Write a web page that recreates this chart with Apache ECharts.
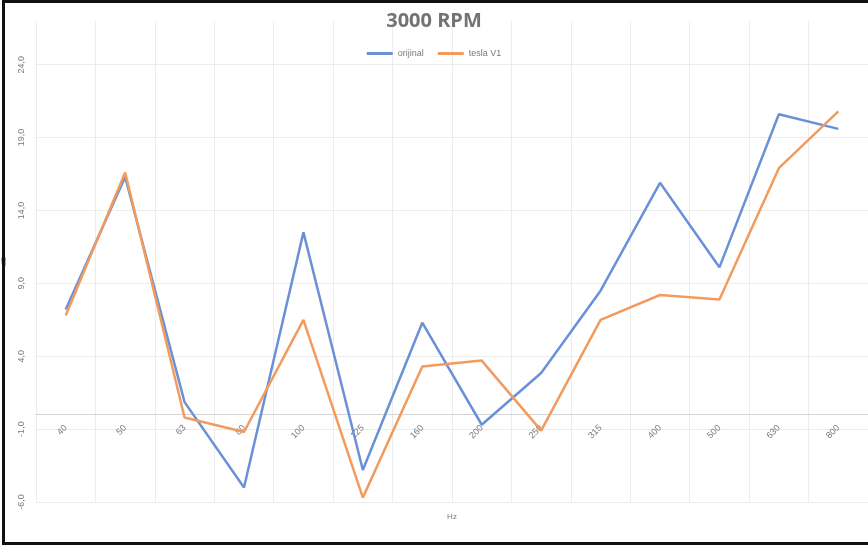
<!DOCTYPE html>
<html lang="en">
<head>
    <meta charset="UTF-8">
    <title>3000 RPM</title>
    <script src="https://cdn.jsdelivr.net/npm/echarts@6/dist/echarts.min.js"></script>
    <style>
        html, body, #chart {
            width: 868px;
            height: 546px;
            padding: 0;
            margin: 0;
            background: #fff;
        }
    </style>
</head>
<body>
<div id="chart"></div>
<script>
    var bands = ["40", "50", "63", "80", "100", "125", "160", "200", "250", "315", "400", "500", "630", "800"];
    var orijinal = [7.2, 16.3, 0.85, -5.0, 12.5, -3.8, 6.3, -0.7, 2.85, 8.5, 15.9, 10.1, 20.6, 19.6];
    var teslaV1 = [6.8, 16.6, -0.2, -1.2, 6.5, -5.7, 3.3, 3.7, -1.1, 6.5, 8.2, 7.9, 16.9, 20.8];
    var yTicks = [-6, -1, 4, 9, 14, 19, 24];

    var labelColor = "#7a7a7a";
    var gridColor = "#ececec";

    // plot box and the y range, so the category axis can sit on the zero line
    var gridTop = 21, gridBottom = 44, yMin = -6, yMax = 27;
    var plotH = 546 - gridTop - gridBottom;
    var zeroOffset = -plotH * (0 - yMin) / (yMax - yMin);

    var myChart = echarts.init(document.getElementById("chart"));

    myChart.setOption({
        animation: false,
        title: {
            text: "3000 RPM",
            left: "center",
            top: 6,
            textStyle: {
                color: "#737373",
                fontSize: 20,
                fontWeight: "bold",
                fontFamily: "Open Sans"
            }
        },
        legend: {
            top: 44,
            left: "center",
            itemWidth: 26,
            itemHeight: 3,
            itemGap: 14,
            icon: "rect",
            textStyle: {
                color: labelColor,
                fontSize: 9
            },
            data: ["orijinal", "tesla V1"]
        },
        graphic: [{
            type: "rect",
            silent: true,
            z: 100,
            shape: {x: 3.5, y: 1.5, width: 900, height: 542},
            style: {fill: "none", stroke: "#111", lineWidth: 3}
        }],
        grid: {
            left: 36,
            right: 0,
            top: gridTop,
            bottom: gridBottom,
            containLabel: false,
            outerBoundsMode: "none"
        },
        xAxis: {
            type: "category",
            data: bands,
            boundaryGap: true,
            offset: zeroOffset,
            name: "Hz",
            nameLocation: "middle",
            nameGap: 98,
            nameTextStyle: {color: labelColor, fontSize: 8},
            axisLine: {onZero: false, lineStyle: {color: "#d4d4d4", width: 1}},
            axisTick: {show: false},
            axisLabel: {
                rotate: 45,
                color: labelColor,
                fontSize: 9,
                margin: 12
            },
            splitLine: {show: true, lineStyle: {color: gridColor}}
        },
        yAxis: {
            type: "value",
            min: yMin,
            max: yMax,
            interval: 5,
            name: "dB",
            nameLocation: "middle",
            nameRotate: 90,
            nameGap: 28,
            nameTextStyle: {color: labelColor, fontSize: 8},
            axisLine: {show: false},
            axisTick: {show: false, customValues: yTicks},
            axisLabel: {
                customValues: yTicks,
                rotate: 90,
                color: labelColor,
                fontSize: 9,
                margin: 10,
                formatter: function (v) {
                    return v.toFixed(1).replace(".", ",");
                }
            },
            splitLine: {show: true, lineStyle: {color: gridColor}}
        },
        series: [{
            name: "orijinal",
            type: "line",
            data: orijinal,
            showSymbol: false,
            itemStyle: {color: "#6a91d8"},
            lineStyle: {color: "#6a91d8", width: 2.5}
        }, {
            name: "tesla V1",
            type: "line",
            data: teslaV1,
            showSymbol: false,
            itemStyle: {color: "#f29b5e"},
            lineStyle: {color: "#f29b5e", width: 2.5}
        }]
    });
</script>
</body>
</html>
